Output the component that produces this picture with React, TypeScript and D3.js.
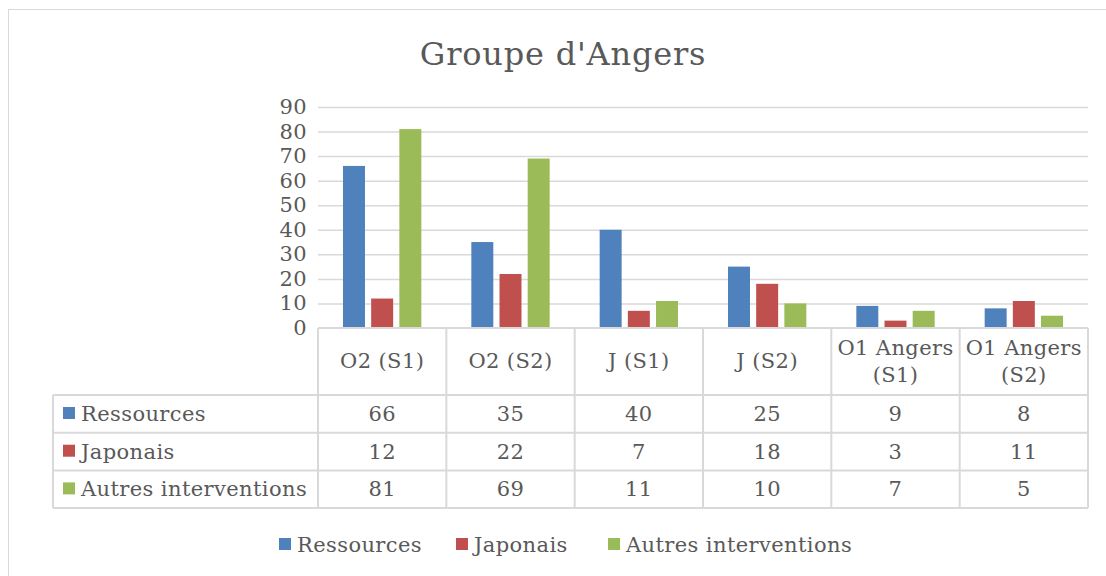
import React from "react";
import * as d3 from "d3";

const title = "Groupe d'Angers";
const categories = ["O2 (S1)", "O2 (S2)", "J (S1)", "J (S2)", "O1 Angers (S1)", "O1 Angers (S2)"];
const categoryLines = [["O2 (S1)"], ["O2 (S2)"], ["J (S1)"], ["J (S2)"], ["O1 Angers", "(S1)"], ["O1 Angers", "(S2)"]];
const seriesNames = ["Ressources", "Japonais", "Autres interventions"];
const ressources = [66, 35, 40, 25, 9, 8];
const japonais = [12, 22, 7, 18, 3, 11];
const autres = [81, 69, 11, 10, 7, 5];
const colors = ["#4F81BD", "#C0504D", "#9BBB59"];
const yTicks = [0, 10, 20, 30, 40, 50, 60, 70, 80, 90];

const FONT = "'DejaVu Serif', 'Liberation Serif', serif";
const TEXT = "#595959";
const GRID = "#d9d9d9";
const FS = 21;
const LS = 0.4;

export default function App() {
  const W = 1106, H = 576;
  const left = 318, right = 1088, top = 107, bottom = 328;
  const series = [ressources, japonais, autres];
  const x = d3.scaleBand<string>().domain(categories).range([left, right]).padding(0);
  const y = d3.scaleLinear().domain([0, 90]).range([bottom, top]);
  const bw = x.bandwidth();
  const inner = d3.scaleBand<number>().domain([0, 1, 2]).range([25, bw - 25]).paddingInner(0.22);
  const tableLeft = 53;
  const headerBottom = 395;
  const rowH = 37.7;
  const rows = seriesNames.map((_, i) => headerBottom + i * rowH);
  const tableBottom = headerBottom + 3 * rowH;

  const legendItems = [
    { x: 279, name: seriesNames[0], c: colors[0] },
    { x: 456, name: seriesNames[1], c: colors[1] },
    { x: 608, name: seriesNames[2], c: colors[2] },
  ];

  return (
    <svg width={W} height={H} style={{ position: "absolute", left: 0, top: 0, background: "#fff" }} fontFamily={FONT}>
      <rect x={8.5} y={9.5} width={1120} height={600} fill="#fff" stroke={GRID} />
      <text x={563} y={65} textAnchor="middle" fontSize={32} letterSpacing={0.8} fill={TEXT}>{title}</text>
      {yTicks.map((t) => (
        <g key={t}>
          {t > 0 && <line x1={left} x2={right} y1={y(t) + 0.5} y2={y(t) + 0.5} stroke={GRID} strokeWidth={1.5} />}
          <text x={307} y={y(t) + 7} textAnchor="end" fontSize={FS} letterSpacing={LS} fill={TEXT}>{t}</text>
        </g>
      ))}
      {series.map((vals, si) =>
        vals.map((v, ci) => (
          <rect key={`${si}-${ci}`} x={(x(categories[ci]) as number) + (inner(si) as number)} y={y(v)}
            width={inner.bandwidth()} height={bottom - y(v)} fill={colors[si]} />
        ))
      )}
      <g stroke={GRID} strokeWidth={2} fill="none">
        <line x1={left} x2={right} y1={bottom} y2={bottom} />
        {categories.map((c) => (
          <line key={c} x1={x(c) as number} x2={x(c) as number} y1={bottom} y2={tableBottom} />
        ))}
        <line x1={right} x2={right} y1={bottom} y2={tableBottom} />
        <line x1={tableLeft} x2={tableLeft} y1={headerBottom} y2={tableBottom} />
        {[0, 1, 2, 3].map((i) => (
          <line key={i} x1={tableLeft} x2={right} y1={headerBottom + i * rowH} y2={headerBottom + i * rowH} />
        ))}
      </g>
      {categories.map((c, ci) => {
        const cx = (x(c) as number) + bw / 2;
        const lines = categoryLines[ci];
        return lines.length === 1 ? (
          <text key={c} x={cx} y={368} textAnchor="middle" fontSize={FS} letterSpacing={LS} fill={TEXT}>{lines[0]}</text>
        ) : (
          <text key={c} x={cx} textAnchor="middle" fontSize={FS} letterSpacing={LS} fill={TEXT}>
            <tspan x={cx} y={355}>{lines[0]}</tspan>
            <tspan x={cx} y={382}>{lines[1]}</tspan>
          </text>
        );
      })}
      {seriesNames.map((n, si) => (
        <g key={n}>
          <rect x={63} y={rows[si] + 12} width={12} height={12} fill={colors[si]} />
          <text x={81} y={rows[si] + 26} fontSize={FS} letterSpacing={LS} fill={TEXT}>{n}</text>
          {series[si].map((v, ci) => (
            <text key={ci} x={(x(categories[ci]) as number) + bw / 2} y={rows[si] + 26} textAnchor="middle" fontSize={FS} letterSpacing={LS} fill={TEXT}>{v}</text>
          ))}
        </g>
      ))}
      {legendItems.map((l) => (
        <g key={l.name}>
          <rect x={l.x} y={538} width={12} height={12} fill={l.c} />
          <text x={l.x + 18} y={552} fontSize={FS} letterSpacing={LS} fill={TEXT}>{l.name}</text>
        </g>
      ))}
    </svg>
  );
}
